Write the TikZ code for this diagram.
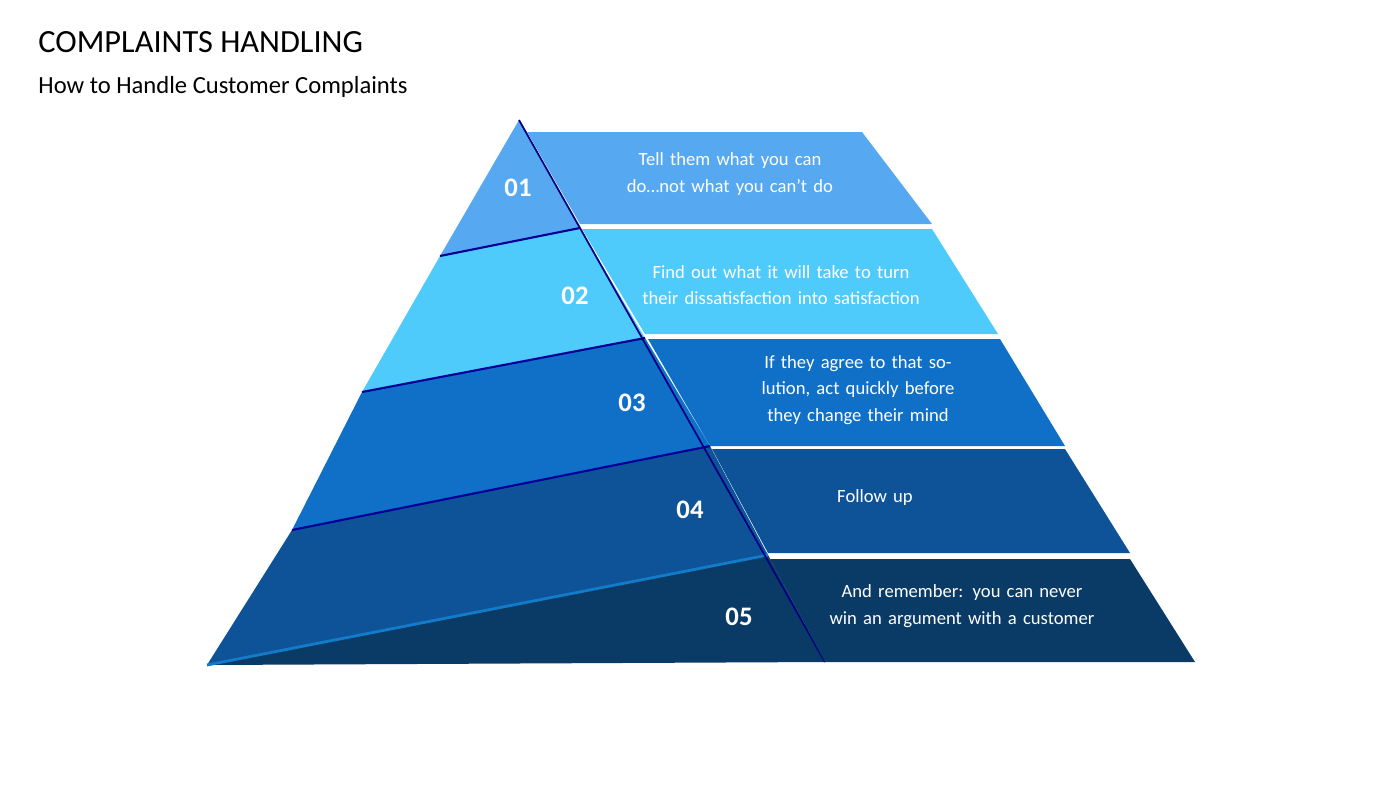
\documentclass[tikz,border=0pt]{standalone}
\usepackage{fontspec}
\setmainfont{Carlito}
\definecolor{bandA}{HTML}{56A9F0}
\definecolor{bandB}{HTML}{4FCBFB}
\definecolor{bandC}{HTML}{1070C8}
\definecolor{bandD}{HTML}{0E5398}
\definecolor{bandE}{HTML}{0A3A66}
\begin{document}
\begin{tikzpicture}[x=0.01cm,y=-0.01cm]
    \tikzstyle{num}=[text=white,font=\fontsize{7.6}{9}\selectfont\bfseries]
    \tikzstyle{txt}=[text=white,font=\fontsize{5.3}{7.6}\selectfont,align=center,text width=2.9cm]
    \useasboundingbox (0,0) rectangle (1400,787);
    \node[anchor=west,font=\fontsize{9.2}{11}\selectfont] (title) at (26,42) {COMPLAINTS HANDLING};
    \node[anchor=west,font=\fontsize{7}{9}\selectfont] (subtitle) at (26,87) {How to Handle Customer Complaints};

    % left face
    \fill[bandA] (519,120) -- (440,256) -- (580,228) -- cycle;
    \fill[bandB] (440,256) -- (362,392) -- (645,338) -- (580,228) -- cycle;
    \fill[bandC] (362,392) -- (292,530) -- (710,446) -- (645,338) -- cycle;
    \fill[bandD] (292,530) -- (207,665) -- (768,555) -- (710,446) -- cycle;
    \fill[bandE] (207,665) -- (825,662) -- (768,555) -- cycle;
    \draw[blue!60!black,line width=0.6pt] (440,256) -- (580,228)
                                           (362,392) -- (645,338)
                                           (292,530) -- (710,446);
    \draw[cyan!60!blue,line width=0.8pt] (207,665) -- (768,555);
    \draw[blue!50!black,line width=0.5pt] (519,120) -- (825,662);

    % right bands
    \fill[bandA] (527,132) -- (862,132) -- (932,224) -- (580,224) -- cycle;
    \fill[bandB] (582,229) -- (932,229) -- (998,334) -- (645,334) -- cycle;
    \fill[bandC] (648,339) -- (1000,339) -- (1065,446) -- (710,446) -- cycle;
    \fill[bandD] (712,449) -- (1065,449) -- (1130,553) -- (768,553) -- cycle;
    \fill[bandE] (770,559) -- (1130,559) -- (1195,662) -- (825,662) -- cycle;

    \node[num] (n1) at (518,188) {01};
    \node[num] (n2) at (575,296) {02};
    \node[num] (n3) at (632,403) {03};
    \node[num] (n4) at (690,510) {04};
    \node[num] (n5) at (739,617) {05};

    \node[txt] (t1) at (730,174) {Tell them what you can do\dots not what you can’t do};
    \node[txt] (t2) at (781,285) {Find out what it will take to turn their dissatisfaction into satisfaction};
    \node[txt] (t3) at (858,390) {If they agree to that solution, act quickly before they change their mind};
    \node[txt] (t4) at (875,498) {Follow up};
    \node[txt] (t5) at (962,606) {And remember: you can never win an argument with a customer};
\end{tikzpicture}
\end{document}
